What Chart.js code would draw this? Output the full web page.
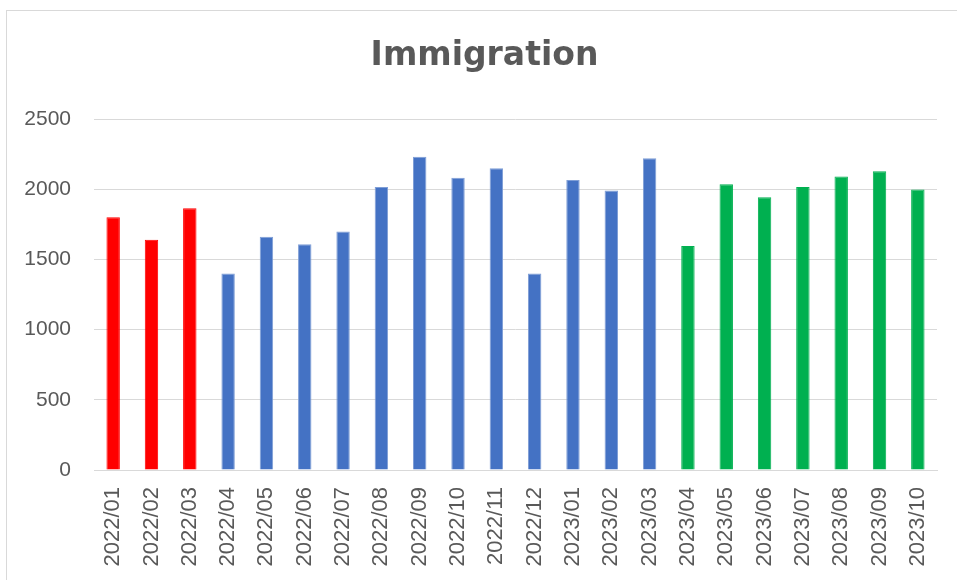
<!DOCTYPE html>
<html>
<head>
<meta charset="utf-8">
<script src="https://cdn.jsdelivr.net/npm/chart.js@4"></script>
<style>
  html, body { margin: 0; padding: 0; background: #fff; }
  #frame { position: absolute; left: 6px; top: 10px; width: 1000px; height: 1000px; border: 1px solid #d9d9d9; box-sizing: border-box; }
  #c { position: absolute; left: 0; top: 0; }
</style>
</head>
<body>
<div id="frame"></div>
<canvas id="c" width="957" height="580"></canvas>
<script>
const categories = ["2022/01","2022/02","2022/03","2022/04","2022/05","2022/06","2022/07","2022/08","2022/09","2022/10","2022/11","2022/12","2023/01","2023/02","2023/03","2023/04","2023/05","2023/06","2023/07","2023/08","2023/09","2023/10"];
const values = [1800,1640,1865,1400,1662,1608,1698,2015,2232,2082,2150,1400,2065,1990,2220,1595,2035,1942,2015,2090,2127,1998];
const barColors = ["#FF0000","#FF0000","#FF0000","#4472C4","#4472C4","#4472C4","#4472C4","#4472C4","#4472C4","#4472C4","#4472C4","#4472C4","#4472C4","#4472C4","#4472C4","#00B050","#00B050","#00B050","#00B050","#00B050","#00B050","#00B050"];
const yTicks = [0,500,1000,1500,2000,2500];
const title = "Immigration";

const borderColors = barColors.map(c => c === "#4472C4" ? "#7F9ED6" : c);

new Chart(document.getElementById('c'), {
  type: 'bar',
  data: {
    labels: categories,
    datasets: [{
      data: values,
      backgroundColor: barColors,
      borderColor: borderColors,
      borderWidth: { left: 1, right: 1, top: 1, bottom: 0 },
      barPercentage: 0.35,
      categoryPercentage: 1.0
    }]
  },
  options: {
    responsive: false,
    animation: false,
    layout: { padding: { left: 12, right: 0, top: 0, bottom: 0 } },
    plugins: {
      legend: { display: false },
      tooltip: { enabled: false },
      title: {
        display: true,
        text: title,
        color: '#595959',
        font: { family: '"DejaVu Sans", sans-serif', size: 33, weight: 'bold', lineHeight: 1.2 },
        padding: { top: 37, bottom: 42.4 }
      }
    },
    scales: {
      x: {
        grid: { display: false, drawTicks: false },
        border: { display: true, color: '#d9d9d9', width: 1 },
        afterFit: axis => { axis.height = 110; axis.paddingRight = 20; axis.paddingLeft = 0; },
        ticks: {
          color: '#595959',
          font: { family: '"Liberation Sans", Arial, sans-serif', size: 22 },
          minRotation: 90, maxRotation: 90,
          padding: 17,
          autoSkip: false
        }
      },
      y: {
        min: 0, max: 2500,
        afterBuildTicks: axis => { axis.ticks = yTicks.map(v => ({ value: v })); },
        afterFit: axis => { axis.width = 82; },
        grid: { color: '#d9d9d9', lineWidth: 1, drawTicks: false },
        border: { display: false },
        ticks: {
          color: '#595959',
          font: { family: '"Liberation Sans", Arial, sans-serif', size: 21 },
          padding: 23,
          callback: v => String(v)
        }
      }
    }
  }
});
</script>
</body>
</html>
